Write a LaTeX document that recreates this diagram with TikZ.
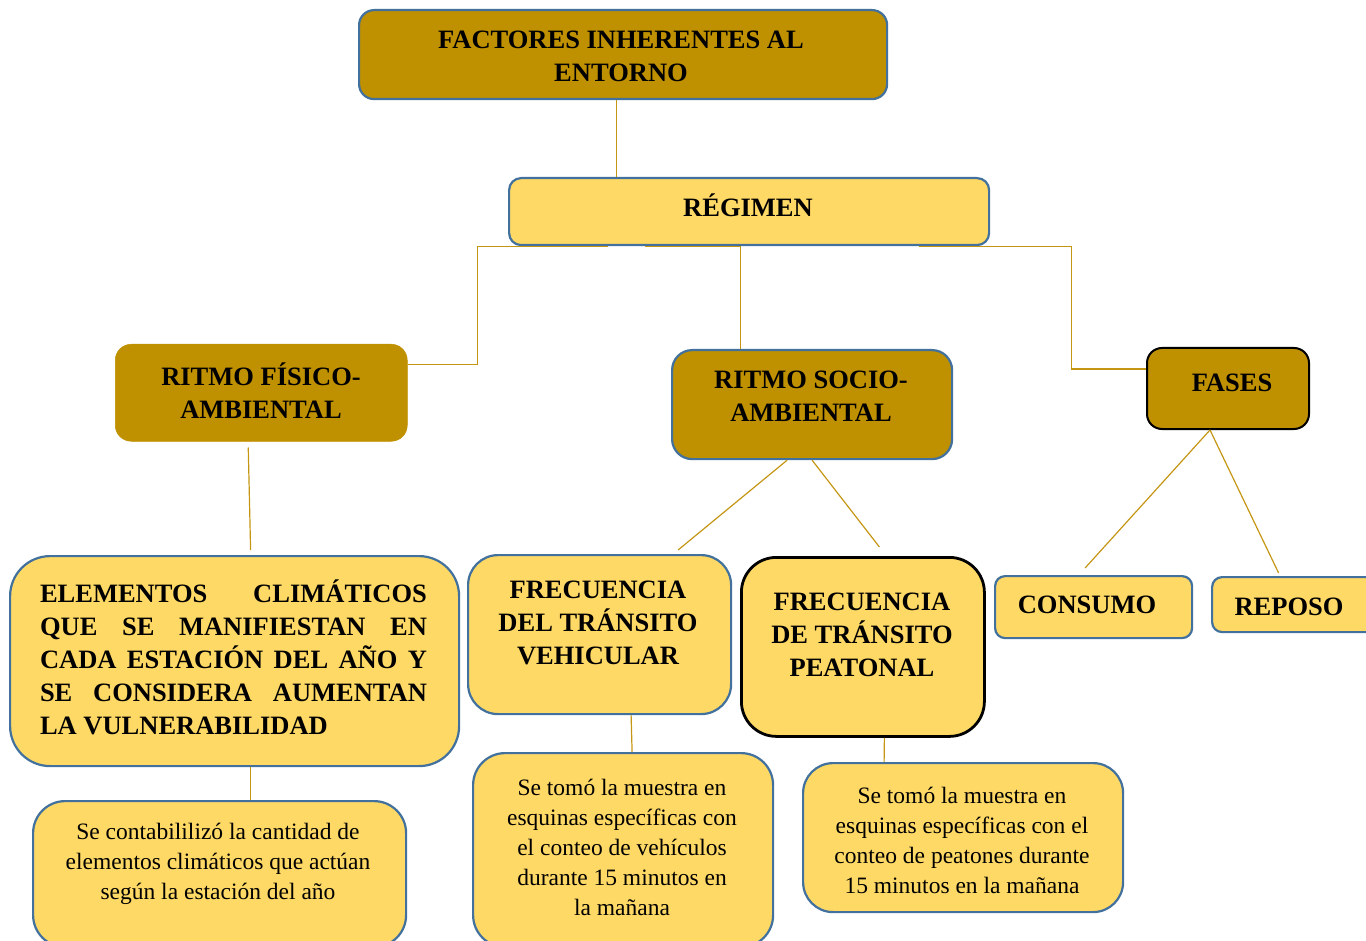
\documentclass[tikz,border=0pt]{standalone}
\usepackage{fontspec}
\setmainfont{Liberation Serif}
\usetikzlibrary{calc}
\definecolor{darkgold}{RGB}{191,144,0}
\definecolor{lightgold}{RGB}{255,217,102}
\definecolor{bordblue}{RGB}{65,113,156}
\definecolor{connc}{RGB}{196,150,20}
\tikzset{
  boxbase/.style={rectangle, inner sep=0pt, anchor=north west},
  darkbox/.style={boxbase, fill=darkgold, draw=bordblue, line width=2.2pt},
  lightbox/.style={boxbase, fill=lightgold, draw=bordblue, line width=2.2pt},
  title/.style={align=center, inner sep=0pt, font=\fontsize{26.5}{33}\selectfont\bfseries},
  body/.style={align=center, inner sep=0pt, font=\fontsize{23.5}{30}\selectfont},
  conn/.style={draw=connc, line width=1.2pt},
}
\newcommand{\mkbox}[6]{% name, style, x0, y0, x1, y1
  \node[#2, minimum width={#5-#3}, minimum height={#6-#4}] (#1) at (#3,#4) {};}
\begin{document}
\begin{tikzpicture}[x=1pt, y=-1pt]
\useasboundingbox (0,0) rectangle (1366,941);
\clip (0,0) rectangle (1366,941);
% boxes
\mkbox{factores}{darkbox, rounded corners=15pt}{358}{9}{886}{98}
\mkbox{regimen}{lightbox, rounded corners=12pt}{508}{177}{988}{244}
\mkbox{fisico}{darkbox, draw=darkgold, line width=0.5pt, rounded corners=16pt}{115}{344}{407}{441}
\mkbox{socio}{darkbox, rounded corners=20pt}{671}{349}{951}{458}
\mkbox{fases}{darkbox, draw=black, line width=2pt, rounded corners=15pt}{1146}{347}{1308}{428}
\mkbox{elementos}{lightbox, rounded corners=40pt}{9}{555}{458}{765}
\mkbox{vehic}{lightbox, rounded corners=30pt}{467}{554}{730}{713}
\mkbox{peat}{lightbox, draw=black, line width=2.8pt, rounded corners=35pt}{740}{556}{983}{735}
\mkbox{consumo}{lightbox, rounded corners=10pt}{994}{575}{1191}{637}
\mkbox{reposo}{lightbox, rounded corners=10pt}{1211}{576}{1380}{631}
\mkbox{contab}{lightbox, rounded corners=32pt}{32}{800}{405}{946}
\mkbox{tomov}{lightbox, rounded corners=32pt}{472}{752}{772}{946}
\mkbox{tomop}{lightbox, rounded corners=30pt}{802}{762}{1122}{911}
% texts
\node[title] (tfactores) at (621,56) {FACTORES INHERENTES AL\\ENTORNO};
\node[title] (tregimen) at (748,205.5) {RÉGIMEN};
\node[title] (tfisico) at (261,391) {RITMO FÍSICO-\\AMBIENTAL};
\node[title] (tsocio) at (811,396.5) {RITMO SOCIO-\\AMBIENTAL};
\node[title] (tfases) at (1232,382.5) {FASES};
\node[title, text width=387pt, align=justify] (telementos) at (233.5,657.5)
  {\hyphenpenalty=10000 ELEMENTOS CLIMÁTICOS\linebreak QUE SE MANIFIESTAN EN\linebreak CADA ESTACIÓN DEL AÑO Y\linebreak SE CONSIDERA AUMENTAN\linebreak LA VULNERABILIDAD};
\node[title] (tvehic) at (598,622.5) {FRECUENCIA\\DEL TRÁNSITO\\VEHICULAR};
\node[title] (tpeat) at (862,634.5) {FRECUENCIA\\DE TRÁNSITO\\PEATONAL};
\node[title] (tconsumo) at (1087,604.5) {CONSUMO};
\node[title] (treposo) at (1289,606.5) {REPOSO};
\node[body] (tcontab) at (218,864) {Se contabililizó la cantidad de\\elementos climáticos que actúan\\según la estación del año};
\node[body] (ttomov) at (622,847) {Se tomó la muestra en\\esquinas específicas con\\el conteo de vehículos\\durante 15 minutos en\\la mañana};
\node[body] (ttomop) at (962,840) {Se tomó la muestra en\\esquinas específicas con el\\conteo de peatones durante\\15 minutos en la mañana};
% connectors
\draw[conn] ([xshift=-7pt]factores.south) -- ([xshift=-7pt]factores.south |- regimen.north);
\draw[conn] ([xshift=-141pt]regimen.south) -- ++(-131,0) |- ([yshift=28pt]fisico.east);
\draw[conn] ([xshift=-104pt]regimen.south) -| ([xshift=-72pt]socio.north);
\draw[conn] ([xshift=170pt]regimen.south) -- ++(152,0) |- ([yshift=19.5pt]fases.west);
\draw[conn] ([xshift=-13pt,yshift=-6pt]fisico.south) -- ([xshift=16pt,yshift=5pt]elementos.north);
\draw[conn] ([xshift=-25pt]socio.south) -- ([xshift=78.5pt,yshift=4pt]vehic.north);
\draw[conn] (socio.south) -- ([xshift=16.5pt,yshift=9pt]peat.north);
\draw[conn] ([xshift=-18pt]fases.south) -- ([xshift=-8.5pt,yshift=7pt]consumo.north);
\draw[conn] ([xshift=-18pt]fases.south) -- ([xshift=-18pt,yshift=3pt]reposo.north);
\draw[conn] ([xshift=15.5pt]elementos.south) -- ([xshift=30.5pt]contab.north);
\draw[conn] ([xshift=31.5pt]vehic.south) -- ([xshift=9pt]tomov.north);
\draw[conn] ([xshift=21.5pt]peat.south) -- ([xshift=-79pt]tomop.north);
\end{tikzpicture}
\end{document}
